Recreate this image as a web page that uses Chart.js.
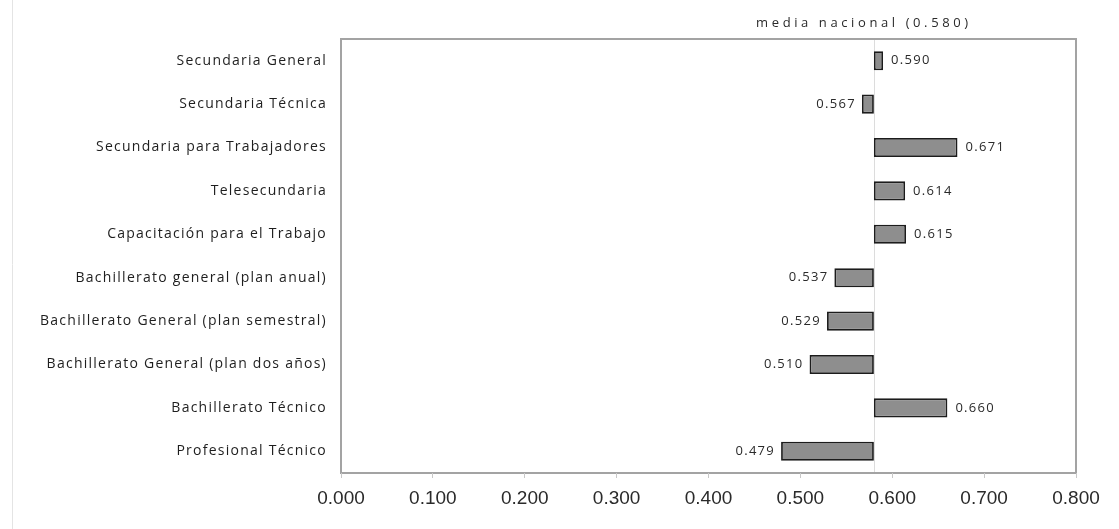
<!DOCTYPE html>
<html>
<head>
<meta charset="utf-8">
<title>Media nacional por modalidad</title>
<script src="https://cdn.jsdelivr.net/npm/chart.js@4/dist/chart.umd.min.js"></script>
<style>
  html, body { margin: 0; padding: 0; background: #ffffff; }
  #wrap { width: 1119px; height: 529px; position: relative; }
</style>
</head>
<body>
<div id="wrap"><canvas id="chart"></canvas></div>
<script>
// Modalidades educativas y su valor; las barras parten de la media nacional.
const categories = [
  'Secundaria General',
  'Secundaria Técnica',
  'Secundaria para Trabajadores',
  'Telesecundaria',
  'Capacitación para el Trabajo',
  'Bachillerato general (plan anual)',
  'Bachillerato General (plan semestral)',
  'Bachillerato General (plan dos años)',
  'Bachillerato Técnico',
  'Profesional Técnico'
];
const values = [0.590, 0.567, 0.671, 0.614, 0.615, 0.537, 0.529, 0.510, 0.660, 0.479];
const mediaNacional = 0.580;
const mediaLabel = 'media nacional (0.580)';
const xTicks = [0.000, 0.100, 0.200, 0.300, 0.400, 0.500, 0.600, 0.700, 0.800];

const LABEL_FONT = '"Open Sans", "DejaVu Sans", sans-serif';

// Floating bars: each one spans from the national mean to the category value.
const floating = values.map(v => [mediaNacional, v]);

const framePlugin = {
  id: 'frameAndLabels',
  beforeDraw(chart) {
    // spaced-out lettering for the category names
    chart.ctx.letterSpacing = '1.25px';
  },
  beforeDatasetsDraw(chart) {
    const { ctx, chartArea: a, scales: { x } } = chart;
    ctx.save();
    ctx.letterSpacing = '0px';
    // faint outer frame edge
    ctx.strokeStyle = '#e4e4e4';
    ctx.lineWidth = 1;
    ctx.beginPath();
    ctx.moveTo(12.5, 0);
    ctx.lineTo(12.5, chart.height);
    ctx.stroke();
    // national mean reference line
    const mx = Math.round(x.getPixelForValue(mediaNacional)) + 0.5;
    ctx.strokeStyle = '#dcdcdc';
    ctx.beginPath();
    ctx.moveTo(mx, a.top);
    ctx.lineTo(mx, a.bottom);
    ctx.stroke();
    // plot frame
    ctx.strokeStyle = '#a3a3a3';
    ctx.lineWidth = 2;
    ctx.strokeRect(a.left, a.top, a.right - a.left, a.bottom - a.top);
    ctx.restore();
  },
  afterDatasetsDraw(chart) {
    const { ctx, scales: { x }, chartArea: a } = chart;
    const meta = chart.getDatasetMeta(0);
    ctx.save();
    ctx.fillStyle = '#2a2a2a';
    ctx.font = '13px ' + LABEL_FONT;
    ctx.textBaseline = 'middle';
    ctx.letterSpacing = '1.3px';
    meta.data.forEach((bar, i) => {
      const v = values[i];
      const end = x.getPixelForValue(v);
      const txt = v.toFixed(3);
      if (v >= mediaNacional) {
        ctx.textAlign = 'left';
        ctx.fillText(txt, end + 8, bar.y);
      } else {
        ctx.textAlign = 'right';
        ctx.fillText(txt, end - 6, bar.y);
      }
    });
    // caption of the reference line
    ctx.letterSpacing = '3.6px';
    ctx.textAlign = 'center';
    ctx.fillText(mediaLabel, x.getPixelForValue(mediaNacional) - 10, a.top - 16);
    ctx.restore();
    // x axis labels use normal spacing
    ctx.letterSpacing = '0px';
  }
};

new Chart(document.getElementById('chart'), {
  type: 'bar',
  data: {
    labels: categories,
    datasets: [{
      data: floating,
      backgroundColor: '#8e8e8e',
      borderColor: '#1c1c1c',
      borderWidth: 1.8,
      borderSkipped: false,
      barPercentage: 0.44,
      categoryPercentage: 1.0
    }]
  },
  options: {
    indexAxis: 'y',
    responsive: true,
    maintainAspectRatio: false,
    animation: false,
    layout: { padding: { top: 39, right: 43, bottom: 0, left: 0 } },
    plugins: {
      legend: { display: false },
      tooltip: { enabled: false },
      title: { display: false }
    },
    scales: {
      x: {
        type: 'linear',
        min: xTicks[0],
        max: xTicks[xTicks.length - 1],
        afterFit(scale) { scale.height = 56; },
        afterBuildTicks(scale) { scale.ticks = xTicks.map(v => ({ value: v })); },
        border: { display: false, z: 1 },
        grid: {
          drawOnChartArea: false,
          drawTicks: true,
          tickLength: 5,
          color: '#c8c8c8',
          lineWidth: 1,
          z: 1
        },
        ticks: {
          z: 1,
          padding: 9,
          color: '#2a2a2a',
          font: { family: '"Liberation Sans", Arial, sans-serif', size: 19 },
          maxRotation: 0,
          callback: v => Number(v).toFixed(3)
        }
      },
      y: {
        type: 'category',
        offset: true,
        afterFit(scale) { scale.width = 341; },
        border: { display: false },
        grid: { display: false, drawTicks: false },
        ticks: {
          padding: 14,
          color: '#1e1e1e',
          font: { family: LABEL_FONT, size: 14 },
          autoSkip: false
        }
      }
    }
  },
  plugins: [framePlugin]
});
</script>
</body>
</html>
